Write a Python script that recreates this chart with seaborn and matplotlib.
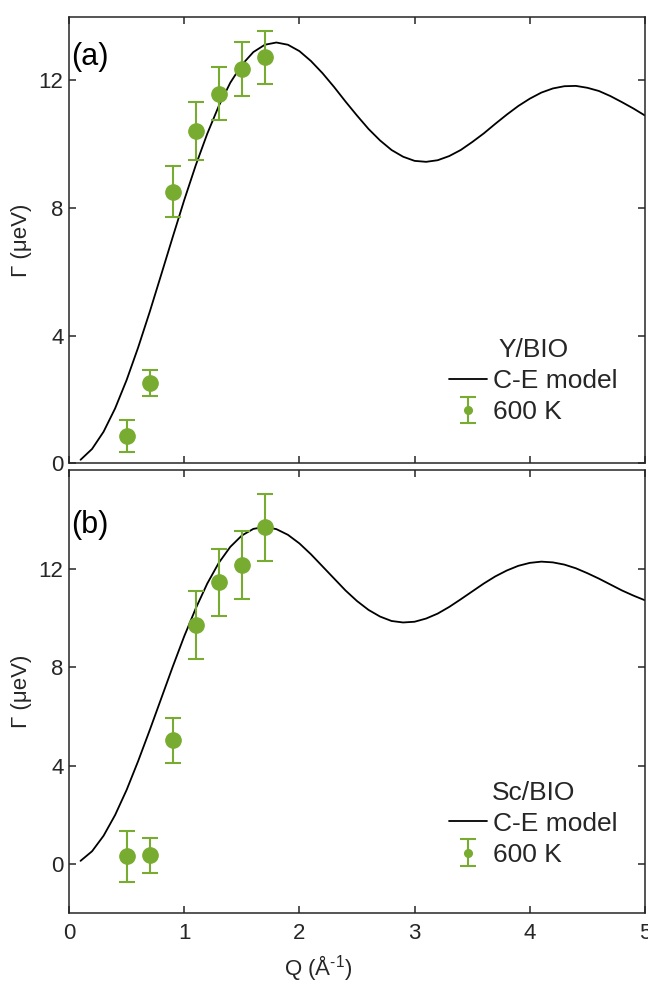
import matplotlib
matplotlib.use("Agg")
import matplotlib.pyplot as plt
import seaborn as sns
import pandas as pd

# ---------------- data ----------------
q_model = [0.1, 0.2, 0.3, 0.4, 0.5, 0.6, 0.7, 0.8, 0.9, 1.0,
           1.1, 1.2, 1.3, 1.4, 1.5, 1.6, 1.7, 1.8, 1.9, 2.0,
           2.1, 2.2, 2.3, 2.4, 2.5, 2.6, 2.7, 2.8, 2.9, 3.0,
           3.1, 3.2, 3.3, 3.4, 3.5, 3.6, 3.7, 3.8, 3.9, 4.0,
           4.1, 4.2, 4.3, 4.4, 4.5, 4.6, 4.7, 4.8, 4.9, 5.0]

model_a = [0.11, 0.45, 0.99, 1.72, 2.61, 3.63, 4.74, 5.91, 7.09, 8.25,
           9.34, 10.33, 11.20, 11.93, 12.49, 12.89, 13.12, 13.19, 13.12, 12.92,
           12.61, 12.23, 11.80, 11.34, 10.90, 10.48, 10.12, 9.82, 9.61, 9.48,
           9.45, 9.50, 9.63, 9.82, 10.07, 10.34, 10.64, 10.93, 11.20, 11.43,
           11.62, 11.75, 11.82, 11.83, 11.77, 11.67, 11.51, 11.32, 11.12, 10.90]

model_b = [0.13, 0.52, 1.15, 1.99, 3.01, 4.18, 5.43, 6.72, 8.01, 9.25,
           10.38, 11.39, 12.23, 12.88, 13.34, 13.61, 13.69, 13.60, 13.37, 13.02,
           12.58, 12.09, 11.60, 11.11, 10.68, 10.32, 10.05, 9.87, 9.81, 9.84,
           9.97, 10.17, 10.44, 10.75, 11.07, 11.39, 11.68, 11.92, 12.11, 12.23,
           12.28, 12.25, 12.16, 12.01, 11.81, 11.59, 11.35, 11.11, 10.90, 10.71]

q_data = [0.5, 0.7, 0.9, 1.1, 1.3, 1.5, 1.7]
gamma_a = [0.87, 2.51, 8.51, 10.41, 11.58, 12.37, 12.73]
err_a = [0.50, 0.41, 0.80, 0.90, 0.83, 0.85, 0.83]
gamma_b = [0.31, 0.35, 5.02, 9.70, 11.44, 12.14, 13.67]
err_b = [1.03, 0.72, 0.92, 1.37, 1.35, 1.39, 1.35]

panel_labels = ["(a)", "(b)"]
legend_titles = ["Y/BIO", "Sc/BIO"]
model_label = "C-E model"
data_label = "600 K"
x_ticks = [0, 1, 2, 3, 4, 5]
y_ticks = [0, 4, 8, 12]

# ---------------- style ----------------
sns.set_style("ticks")
axcol = "#262626"
green = "#77AC30"
plt.rcParams.update({
    "font.family": ["Liberation Sans", "DejaVu Sans"],
    "mathtext.fontset": "custom",
    "mathtext.rm": "Liberation Sans",
    "mathtext.it": "Liberation Sans:italic",
    "mathtext.bf": "Liberation Sans:bold",
    "axes.edgecolor": axcol,
    "axes.linewidth": 1.1,
    "xtick.direction": "in",
    "ytick.direction": "in",
    "xtick.top": True,
    "ytick.right": True,
    "xtick.major.size": 5,
    "ytick.major.size": 5,
    "xtick.major.width": 1.1,
    "ytick.major.width": 1.1,
    "xtick.color": axcol,
    "ytick.color": axcol,
    "xtick.labelsize": 16,
    "ytick.labelsize": 16,
})

fig = plt.figure(figsize=(6.48, 9.86), dpi=100)
ax1 = fig.add_axes([0.1065, 0.5301, 0.8889, 0.4530])
ax2 = fig.add_axes([0.1065, 0.0737, 0.8889, 0.4496])

panels = [
    (ax1, model_a, gamma_a, err_a, (0, 14), 0.088),
    (ax2, model_b, gamma_b, err_b, (-2, 16), 0.105),
]

for i, (ax, model, g, e, ylim, leg_y) in enumerate(panels):
    df = pd.DataFrame({"Q": q_model, "G": model})
    sns.lineplot(data=df, x="Q", y="G", color="black", linewidth=1.3,
                 ax=ax, label=model_label, legend=False, sort=False)
    line = ax.get_lines()[0]
    eb = ax.errorbar(q_data, g, yerr=e, fmt="o", color=green, ms=11,
                     capsize=5.5, elinewidth=1.5, capthick=1.5,
                     label=data_label, zorder=3)
    ax.set_xlim(0, 5)
    ax.set_ylim(*ylim)
    ax.set_xticks(x_ticks)
    ax.set_yticks(y_ticks)
    ax.tick_params(axis="x", pad=7)
    ax.tick_params(axis="y", pad=4)
    ax.set_ylabel("Γ (μeV)", fontsize=16, color=axcol, labelpad=5)
    ax.text(0.004, 0.91 if i == 0 else 0.876, panel_labels[i],
            transform=ax.transAxes, fontsize=22, va="center", ha="left",
            color="black")
    leg = ax.legend([line, eb], [model_label, data_label],
                    title=legend_titles[i], loc="lower right",
                    bbox_to_anchor=(0.953, leg_y), frameon=False,
                    fontsize=19, title_fontsize=19, handlelength=1.45,
                    handletextpad=0.25, labelspacing=0.27, borderpad=0,
                    borderaxespad=0, markerscale=0.5)
    for spine in ax.spines.values():
        spine.set_visible(True)

ax1.tick_params(axis="x", labelbottom=False)
ax2.set_xlabel(r"Q (Å$^{\text{-1}}$)", fontsize=16, color=axcol)
ax2.xaxis.set_label_coords(0.432, -0.09)

fig.savefig("out.png", dpi=100)
